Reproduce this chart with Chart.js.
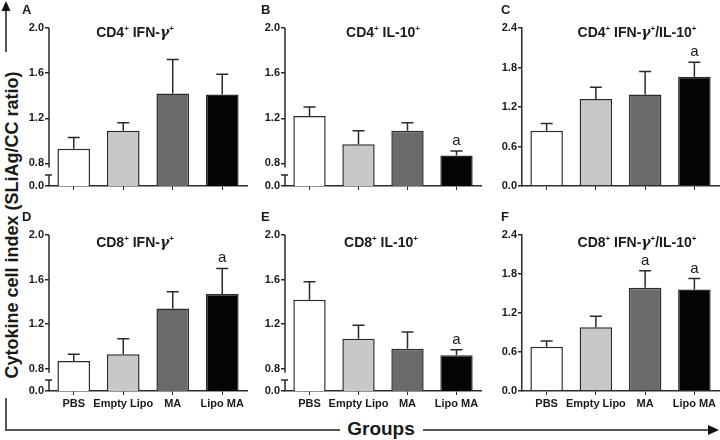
<!DOCTYPE html>
<html>
<head>
<meta charset="utf-8">
<script src="https://cdn.jsdelivr.net/npm/chart.js@4.4.1/dist/chart.umd.min.js"></script>
<style>
  html, body { margin:0; padding:0; background:#fff; }
  #wrap { position:relative; width:720px; height:440px; overflow:hidden; font-family:"Liberation Sans", Arial, sans-serif; color:#1a1a1a; }
  canvas { position:absolute; }
  .title { position:absolute; font-weight:bold; font-size:14px; line-height:16px; white-space:nowrap; transform:translateX(-50%); }
  .title sup { font-size:8px; vertical-align:6px; line-height:0; }
  .title i { font-family:"DejaVu Serif", serif; font-weight:bold; }
  .letter { position:absolute; font-weight:bold; font-size:13px; line-height:13px; }
  #ylab { position:absolute; left:12px; top:225px; font-weight:bold; font-size:18px; line-height:19px; white-space:nowrap; transform:translate(-50%,-50%) rotate(-90deg); }
  #xlab { position:absolute; left:381px; top:429px; font-weight:bold; font-size:19px; line-height:20px; white-space:nowrap; transform:translate(-50%,-50%); }
  svg { position:absolute; left:0; top:0; }
</style>
</head>
<body>
<div id="wrap">
  <svg width="720" height="440">
    <g stroke="#555" stroke-width="2" fill="none">
      <line x1="6" y1="52" x2="6" y2="9"/>
      <polyline points="6,398 6,430 340,430"/>
      <line x1="423" y1="430" x2="709" y2="430"/>
    </g>
    <polygon points="6,1 1.5,11 10.5,11" fill="#111"/>
    <polygon points="719,430 708,425 708,435" fill="#111"/>
  </svg>
  <div id="ylab">Cytokine cell index (SLiAg/CC ratio)</div>
  <div id="xlab">Groups</div>
</div>
<script>
// ---- data ----
const categories = ['PBS', 'Empty Lipo', 'MA', 'Lipo MA'];

const meanA = [0.93, 1.09, 1.42, 1.41];
const semA  = [0.10, 0.07, 0.30, 0.18];
const sigA  = ['', '', '', ''];

const meanB = [1.22, 0.97, 1.09, 0.87];
const semB  = [0.08, 0.12, 0.07, 0.04];
const sigB  = ['', '', '', 'a'];

const meanC = [0.84, 1.32, 1.39, 1.66];
const semC  = [0.11, 0.18, 0.35, 0.22];
const sigC  = ['', '', '', 'a'];

const meanD = [0.87, 0.93, 1.34, 1.47];
const semD  = [0.06, 0.14, 0.15, 0.23];
const sigD  = ['', '', '', 'a'];

const meanE = [1.42, 1.07, 0.98, 0.92];
const semE  = [0.16, 0.12, 0.15, 0.05];
const sigE  = ['', '', '', 'a'];

const meanF = [0.68, 0.98, 1.59, 1.56];
const semF  = [0.09, 0.17, 0.26, 0.17];
const sigF  = ['', '', 'a', 'a'];

// broken axis (bottom tick stands for 0.0)
const brokenTickValues = [0.6, 0.8, 1.2, 1.6, 2.0];
const brokenTickLabels = ['0.0', '0.8', '1.2', '1.6', '2.0'];
const ratioTickValues  = [0, 0.6, 1.2, 1.8, 2.4];
const ratioTickLabels  = ['0.0', '0.6', '1.2', '1.8', '2.4'];

const titles = {
  A: 'CD4<sup>+</sup> IFN-<i>γ</i><sup>+</sup>',
  B: 'CD4<sup>+</sup> IL-10<sup>+</sup>',
  C: 'CD4<sup>+</sup> IFN-<i>γ</i><sup>+</sup>/IL-10<sup>+</sup>',
  D: 'CD8<sup>+</sup> IFN-<i>γ</i><sup>+</sup>',
  E: 'CD8<sup>+</sup> IL-10<sup>+</sup>',
  F: 'CD8<sup>+</sup> IFN-<i>γ</i><sup>+</sup>/IL-10<sup>+</sup>'
};

// ---- layout ----
const panels = [
  {id:'A', mean:meanA, sem:semA, sig:sigA, broken:true,  ax:49,  t:28,  b:186, r:247, labels:false, tx:135, ty:24,  lx:22,  ly:3},
  {id:'B', mean:meanB, sem:semB, sig:sigB, broken:true,  ax:285, t:28,  b:186, r:481, labels:false, tx:383, ty:24,  lx:261, ly:3},
  {id:'C', mean:meanC, sem:semC, sig:sigC, broken:false, ax:522, t:28,  b:186, r:719, labels:false, tx:637, ty:24,  lx:501, ly:3},
  {id:'D', mean:meanD, sem:semD, sig:sigD, broken:true,  ax:49,  t:235, b:391, r:247, labels:true,  tx:135, ty:234, lx:22,  ly:210},
  {id:'E', mean:meanE, sem:semE, sig:sigE, broken:true,  ax:285, t:235, b:391, r:481, labels:true,  tx:381, ty:234, lx:261, ly:210},
  {id:'F', mean:meanF, sem:semF, sig:sigF, broken:false, ax:522, t:235, b:391, r:719, labels:true,  tx:637, ty:234, lx:501, ly:210}
];

const barColors = ['#ffffff', '#c8c8c8', '#6a6a6a', '#050505'];
const ink = '#2a2a2a';
const yTickFont = {family:'"Liberation Sans", Arial, sans-serif', size:11, weight:'bold'};
const xTickFont = {family:'"Liberation Sans Narrow", "Liberation Sans", Arial, sans-serif', size:11, weight:'bold'};

const errPlugin = {
  id: 'errbars',
  afterDatasetsDraw(chart, args, opts) {
    const ctx = chart.ctx;
    const ys = chart.scales.y;
    const meta = chart.getDatasetMeta(0);
    ctx.save();
    ctx.strokeStyle = ink;
    ctx.lineWidth = 1.5;
    meta.data.forEach((bar, i) => {
      const v = chart.data.datasets[0].data[i];
      const y0 = ys.getPixelForValue(v);
      const y1 = ys.getPixelForValue(v + opts.sem[i]);
      ctx.beginPath();
      ctx.moveTo(bar.x, y0);
      ctx.lineTo(bar.x, y1);
      ctx.moveTo(bar.x - 6, y1);
      ctx.lineTo(bar.x + 6, y1);
      ctx.stroke();
      if (opts.sig[i]) {
        ctx.fillStyle = '#1a1a1a';
        ctx.font = '15px "Liberation Sans", Arial, sans-serif';
        ctx.textAlign = 'center';
        ctx.textBaseline = 'alphabetic';
        ctx.fillText(opts.sig[i], bar.x, y1 - 6);
      }
    });
    ctx.restore();
  }
};

const brokenAxisPlugin = {
  id: 'brokenaxis',
  afterDraw(chart, args, opts) {
    if (!opts.broken) return;
    const ctx = chart.ctx;
    const ys = chart.scales.y;
    const x = chart.chartArea.left;
    const top = chart.chartArea.top;
    const bottom = chart.chartArea.bottom;
    const y08 = ys.getPixelForValue(0.8);
    ctx.save();
    ctx.strokeStyle = ink;
    ctx.lineWidth = 1.5;
    ctx.beginPath();
    ctx.moveTo(x, top);
    ctx.lineTo(x, y08 + 4);
    ctx.moveTo(x, bottom - 11);
    ctx.lineTo(x, bottom);
    ctx.moveTo(x - 4, bottom - 11);
    ctx.lineTo(x + 3, bottom - 11);
    ctx.stroke();
    ctx.restore();
  }
};

const wrap = document.getElementById('wrap');
const Y_W = 35, X_H = 25, PAD_T = 10, PAD_R = 2;

panels.forEach(p => {
  const cv = document.createElement('canvas');
  const w = p.r - p.ax + Y_W + PAD_R;
  const h = p.b - p.t + PAD_T + X_H;
  cv.width = w; cv.height = h;
  cv.style.left = (p.ax - Y_W) + 'px';
  cv.style.top = (p.t - PAD_T) + 'px';
  cv.style.width = w + 'px'; cv.style.height = h + 'px';
  wrap.appendChild(cv);

  const tv = p.broken ? brokenTickValues : ratioTickValues;
  const tl = p.broken ? brokenTickLabels : ratioTickLabels;

  new Chart(cv, {
    type: 'bar',
    data: {
      labels: categories,
      datasets: [{
        data: p.mean,
        backgroundColor: barColors,
        borderColor: ink,
        borderWidth: 1.5,
        borderSkipped: 'start',
        categoryPercentage: 1,
        barPercentage: 0.66
      }]
    },
    options: {
      responsive: false,
      animation: false,
      devicePixelRatio: 1,
      layout: {padding: {top: PAD_T, right: PAD_R, left: 0, bottom: 0}},
      plugins: {
        legend: {display: false},
        tooltip: {enabled: false},
        errbars: {sem: p.sem, sig: p.sig},
        brokenaxis: {broken: p.broken}
      },
      scales: {
        x: {
          grid: {display: true, drawOnChartArea: false, drawTicks: true, tickLength: 4, offset: false, color: ink, lineWidth: 1},
          border: {display: true, color: ink, width: 1.5},
          ticks: {display: p.labels, color: '#1a1a1a', font: xTickFont, padding: 2, maxRotation: 0, autoSkip: false},
          afterFit: s => { s.height = X_H; }
        },
        y: {
          min: tv[0],
          max: tv[tv.length - 1],
          afterBuildTicks: s => { s.ticks = tv.map(v => ({value: v})); },
          grid: {display: true, drawOnChartArea: false, drawTicks: true, tickLength: 4, color: ink, lineWidth: 1.5},
          border: {display: !p.broken, color: ink, width: 1.5},
          ticks: {
            color: '#1a1a1a', font: yTickFont, padding: 1,
            callback: (v) => { const k = tv.indexOf(v); return k >= 0 ? tl[k] : ''; }
          },
          afterFit: s => { s.width = Y_W; }
        }
      }
    },
    plugins: [errPlugin, brokenAxisPlugin]
  });

  const t = document.createElement('div');
  t.className = 'title';
  t.style.left = p.tx + 'px';
  t.style.top = p.ty + 'px';
  t.innerHTML = titles[p.id];
  wrap.appendChild(t);

  const l = document.createElement('div');
  l.className = 'letter';
  l.style.left = p.lx + 'px';
  l.style.top = p.ly + 'px';
  l.textContent = p.id;
  wrap.appendChild(l);
});
</script>
</body>
</html>
